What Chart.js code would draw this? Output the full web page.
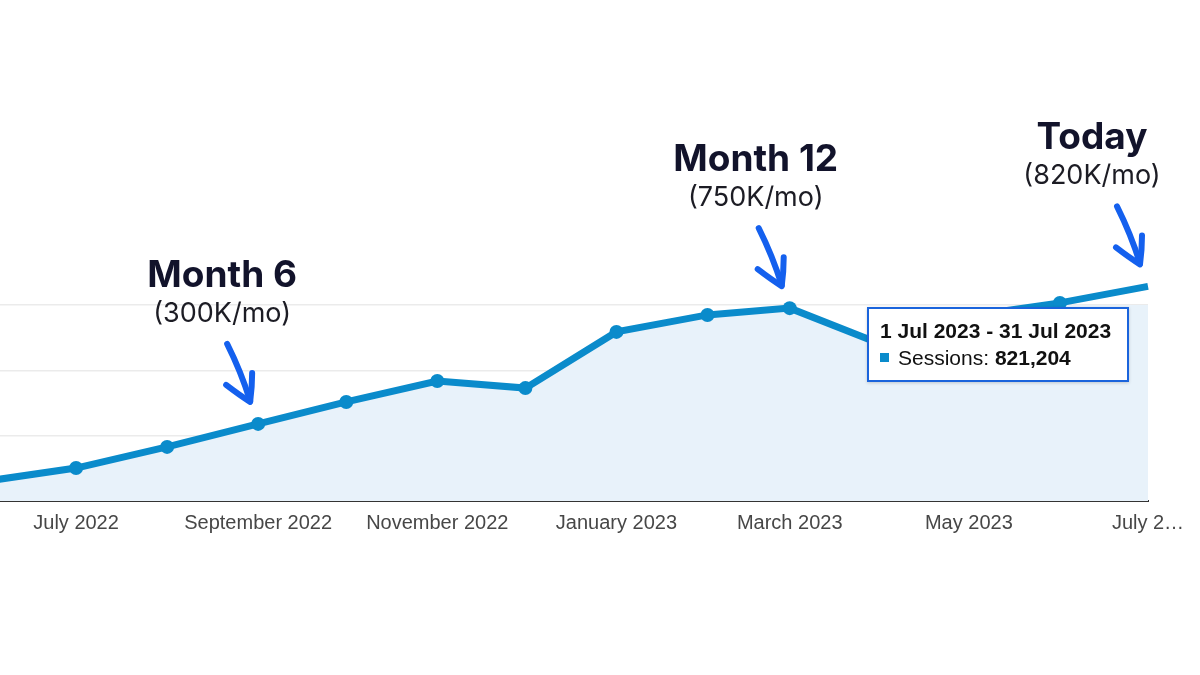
<!DOCTYPE html>
<html>
<head>
<meta charset="utf-8">
<script src="https://cdn.jsdelivr.net/npm/chart.js@4.4.1/dist/chart.umd.min.js"></script>
<style>
html,body{margin:0;padding:0;background:#fff;}
#wrap{position:relative;width:1200px;height:675px;overflow:hidden;}
#c{position:absolute;left:0;top:0;}
#tip{position:absolute;box-sizing:border-box;width:262px;height:75px;border:2px solid #1a64dc;background:#fff;
  font-family:"Liberation Sans",Arial,sans-serif;color:#111;padding:10px 0 0 11px;box-shadow:0 1px 3px rgba(0,0,0,0.18);}
#tip .t{font-weight:bold;font-size:21px;line-height:24px;white-space:nowrap;}
#tip .r{font-size:21px;line-height:24px;margin-top:3px;white-space:nowrap;}
#tip .sq{display:inline-block;width:9px;height:9px;background:#0a8bcb;margin-right:9px;vertical-align:3px;}
</style>
</head>
<body>
<div id="wrap">
<canvas id="c" width="1200" height="675"></canvas>
<div id="tip"></div>
</div>
<script>
// ---- data ----
const monthStarts = ['2022-06-01','2022-07-01','2022-08-01','2022-09-01','2022-10-01','2022-11-01','2022-12-01',
  '2023-01-01','2023-02-01','2023-03-01','2023-04-01','2023-05-01','2023-06-01','2023-07-01'];
const sessions = [77000,126000,207000,295000,379000,459000,432000,647000,712000,738000,601000,708000,758000,821204];
const tickIndex = [1,3,5,7,9,11,13];
const tickLabels = ['July 2022','September 2022','November 2022','January 2023','March 2023','May 2023','July 2…'];
const annotIndex = [3,9,13];
const annotTitles = ['Month 6','Month 12','Today'];
const annotSubs = ['(300K/mo)','(750K/mo)','(820K/mo)'];
const annotDx = [-36,-34,-56];
const tooltipTitle = '1 Jul 2023 - 31 Jul 2023';
const tooltipSeries = 'Sessions';
const tooltipIndex = 13;

const LINE = '#0a8bcb';
const ARROW = '#1460ee';

// day offsets from the first month start (time-proportional x axis)
const t0 = Date.parse(monthStarts[0]);
const dayX = monthStarts.map(d => Math.round((Date.parse(d) - t0) / 86400000));
const points = sessions.map((v,i)=>({x:dayX[i], y:v}));
const tickX = tickIndex.map(i => dayX[i]);

const annotPlugin = {
  id:'annot',
  afterDraw(chart){
    const ctx = chart.ctx;
    const meta = chart.getDatasetMeta(0);
    annotIndex.forEach((idx,k)=>{
      const p = meta.data[idx];
      const px = p.x, py = p.y;
      ctx.save();
      ctx.strokeStyle = ARROW; ctx.lineWidth = 6; ctx.lineCap='round'; ctx.lineJoin='round';
      ctx.beginPath();
      ctx.moveTo(px-31, py-80);
      ctx.quadraticCurveTo(px-17, py-52, px-8, py-23);
      ctx.stroke();
      ctx.beginPath();
      ctx.moveTo(px-32, py-39);
      ctx.quadraticCurveTo(px-19, py-29, px-8, py-22);
      ctx.quadraticCurveTo(px-6, py-37, px-6, py-51);
      ctx.stroke();
      const cx = px + annotDx[k];
      ctx.fillStyle = '#12132b';
      ctx.textAlign = 'center'; ctx.textBaseline = 'alphabetic';
      ctx.font = '700 37px Inter, "Noto Sans", sans-serif';
      ctx.fillText(annotTitles[k], cx, py-137);
      ctx.fillStyle = '#1c1c24';
      ctx.font = '400 27px Inter, "Noto Sans", sans-serif';
      ctx.fillText(annotSubs[k], cx, py-102);
      ctx.restore();
    });
    const tp = meta.data[tooltipIndex];
    const tip = document.getElementById('tip');
    tip.style.left = (tp.x - 281) + 'px';
    tip.style.top = (tp.y + 21) + 'px';
  }
};

const tip = document.getElementById('tip');
const t1 = document.createElement('div'); t1.className='t'; t1.textContent = tooltipTitle;
const t2 = document.createElement('div'); t2.className='r';
const sq = document.createElement('span'); sq.className='sq';
const b = document.createElement('b'); b.textContent = sessions[tooltipIndex].toLocaleString('en-US');
t2.appendChild(sq); t2.appendChild(document.createTextNode(tooltipSeries + ': ')); t2.appendChild(b);
tip.appendChild(t1); tip.appendChild(t2);

const lastIdx = sessions.length-1;
new Chart(document.getElementById('c'), {
  type:'line',
  data:{
    datasets:[{
      data: points,
      borderColor: LINE,
      borderWidth: 7,
      backgroundColor: '#e8f2fa',
      fill: 'origin',
      tension: 0,
      clip: false,
      pointRadius: sessions.map((v,i)=> i===lastIdx ? 8 : 7),
      pointBackgroundColor: LINE,
      pointBorderColor: sessions.map((v,i)=> i===lastIdx ? 'rgba(30,60,80,0.28)' : LINE),
      pointBorderWidth: sessions.map((v,i)=> i===lastIdx ? 2 : 0),
      pointHoverRadius: 7
    }]
  },
  options:{
    responsive:false,
    animation:false,
    events:[],
    layout:{autoPadding:false, padding:{top:305,left:0,right:52,bottom:134}},
    plugins:{legend:{display:false},tooltip:{enabled:false}},
    scales:{
      x:{
        type:'linear',
        min:4.1, max:dayX[dayX.length-1],
        afterBuildTicks(scale){ scale.ticks = tickX.map(v=>({value:v})); },
        afterFit(scale){ scale.height = 40; scale.paddingLeft = 0; scale.paddingRight = 0; },
        grid:{display:false, drawTicks:false},
        border:{display:true, color:'#333', width:2},
        ticks:{
          autoSkip:false, maxRotation:0, padding:10,
          color:'#474747',
          font:{family:'"Liberation Sans", Arial, sans-serif', size:20},
          callback:(v)=>{ const k = tickX.indexOf(v); return k>=0 ? tickLabels[k] : ''; }
        }
      },
      y:{
        min:0, max:750000,
        afterFit(scale){ scale.width = 0; scale.paddingTop = 0; scale.paddingBottom = 0; },
        ticks:{display:false, stepSize:250000},
        grid:{color:'#ebebeb', lineWidth:1.5, drawTicks:false},
        border:{display:false}
      }
    }
  },
  plugins:[annotPlugin]
});
</script>
</body>
</html>
